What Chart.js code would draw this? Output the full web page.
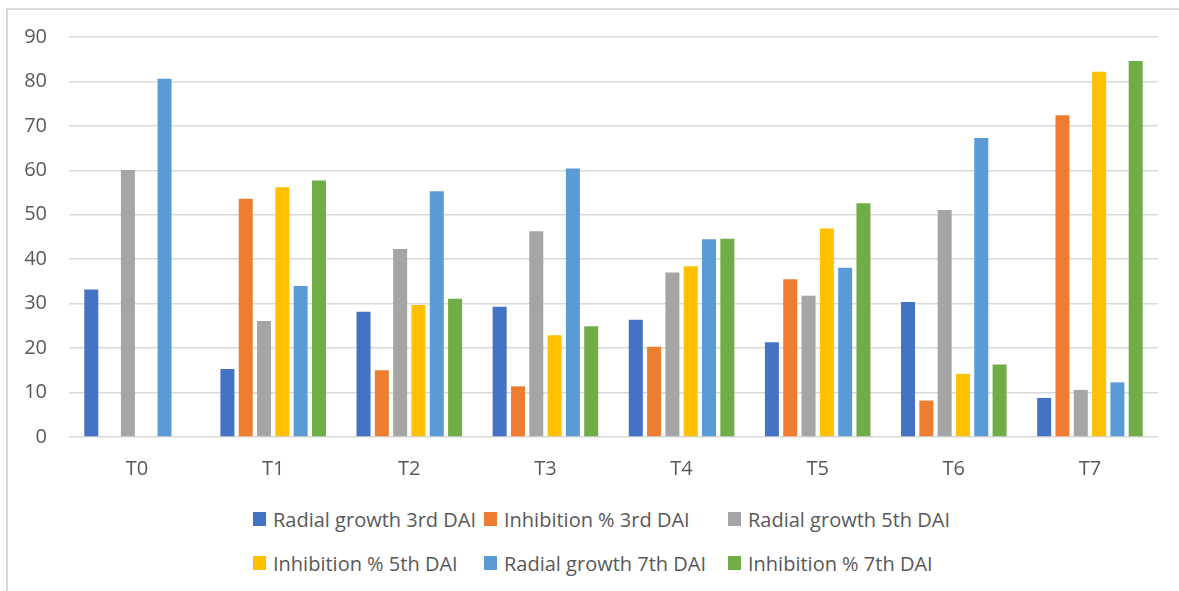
<!DOCTYPE html>
<html>
<head>
<meta charset="utf-8">
<script src="https://cdn.jsdelivr.net/npm/chart.js@4/dist/chart.umd.min.js"></script>
<style>
  html, body { margin: 0; padding: 0; background: #fff; }
  body { width: 1179px; height: 591px; position: relative; overflow: hidden; font-family: "Open Sans", sans-serif; }
  .frame { position: absolute; left: 6px; top: 8px; width: 1200px; height: 600px; border-top: 2px solid #d9d9d9; border-left: 2px solid #d9d9d9; }
  .box { position: absolute; left: 0; top: 0; width: 1179px; height: 495px; }
  .legend { position: absolute; left: 253px; top: 507px; display: grid; grid-template-columns: 231px 244px auto; row-gap: 20px; color: #595959; font-size: 20px; }
  .item { display: flex; align-items: center; white-space: nowrap; height: 24px; }
  .item span { display: inline-block; width: 13px; height: 14px; margin-right: 7px; }
</style>
</head>
<body>
<div class="frame"></div>
<div class="box"><canvas id="chart"></canvas></div>
<div class="legend" id="legend"></div>
<script>
const treatments = ['T0', 'T1', 'T2', 'T3', 'T4', 'T5', 'T6', 'T7'];
const yTicks = [0, 10, 20, 30, 40, 50, 60, 70, 80, 90];

const radial3 = [33.2, 15.3, 28.2, 29.3, 26.4, 21.3, 30.4, 8.8];
const inhib3 = [0, 53.6, 15.0, 11.4, 20.3, 35.5, 8.2, 72.4];
const radial5 = [60.1, 26.1, 42.3, 46.3, 37.0, 31.8, 51.1, 10.6];
const inhib5 = [0, 56.2, 29.7, 22.9, 38.4, 46.9, 14.2, 82.2];
const radial7 = [80.6, 34.0, 55.3, 60.4, 44.5, 38.1, 67.3, 12.3];
const inhib7 = [0, 57.7, 31.1, 24.9, 44.6, 52.6, 16.3, 84.6];

const seriesNames = ['Radial growth 3rd DAI', 'Inhibition % 3rd DAI', 'Radial growth 5th DAI',
  'Inhibition % 5th DAI', 'Radial growth 7th DAI', 'Inhibition % 7th DAI'];
const seriesData = [radial3, inhib3, radial5, inhib5, radial7, inhib7];
const colors = ['#4472C4', '#ED7D31', '#A5A5A5', '#FFC000', '#5B9BD5', '#70AD47'];

Chart.defaults.font.family = '"Open Sans", sans-serif';
Chart.defaults.font.size = 20;
Chart.defaults.color = '#595959';

const data_chart = {
  labels: treatments,
  datasets: seriesNames.map((name, i) => ({
    label: name,
    data: seriesData[i],
    backgroundColor: colors[i],
    borderWidth: 0,
    categoryPercentage: 0.807,
    barPercentage: 0.765
  }))
};

const config = {
  type: 'bar',
  data: data_chart,
  options: {
    responsive: true,
    maintainAspectRatio: false,
    animation: false,
    layout: { padding: { left: 10, right: 21, top: 37, bottom: 0 } },
    plugins: {
      legend: { display: false },
      tooltip: { enabled: false }
    },
    scales: {
      x: {
        grid: { display: false },
        border: { display: false },
        ticks: { padding: 12, color: '#595959', font: { size: 20 } },
        afterFit: (scale) => { scale.height = 58; }
      },
      y: {
        min: 0,
        max: 90,
        afterBuildTicks: (scale) => { scale.ticks = yTicks.map(v => ({ value: v })); },
        grid: { color: '#d9d9d9', lineWidth: 1.5, drawTicks: false },
        border: { display: false },
        ticks: { padding: 22, color: '#595959', font: { size: 20 } },
        afterFit: (scale) => { scale.width = 59; }
      }
    }
  }
};

const Charts = new Chart('chart', config);

// legend in html, two rows of three like the original
const legend = document.getElementById('legend');
seriesNames.forEach((name, i) => {
  const item = document.createElement('div');
  item.className = 'item';
  item.innerHTML = `<span style="background:${colors[i]}"></span>${name}`;
  legend.appendChild(item);
});
</script>
</body>
</html>
